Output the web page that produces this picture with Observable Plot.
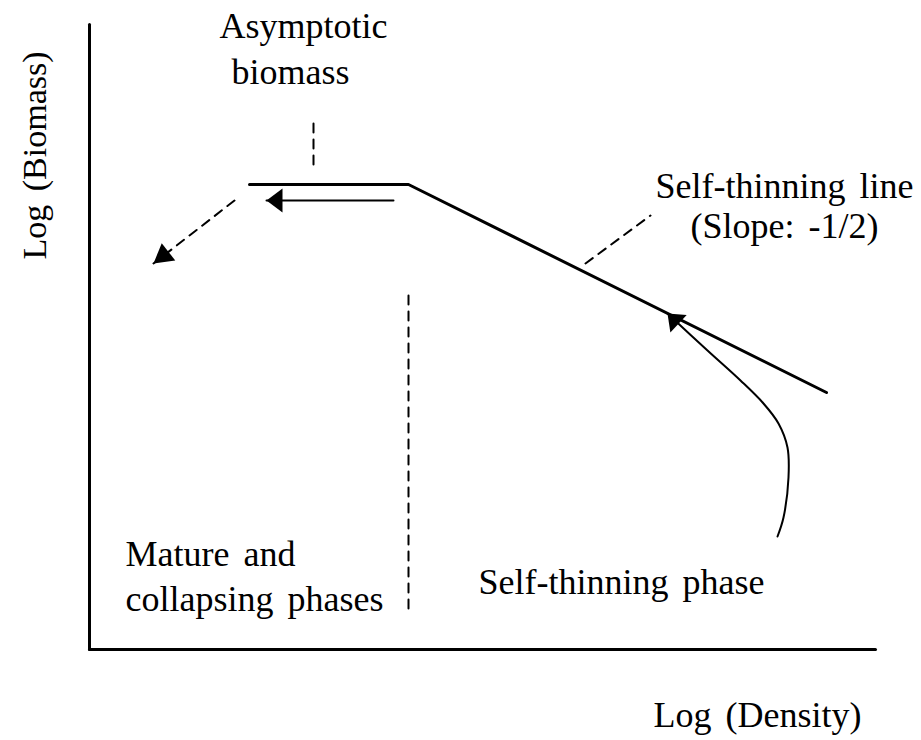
<!DOCTYPE html>
<html><head><meta charset="utf-8">
<script src="https://cdn.jsdelivr.net/npm/d3@7"></script>
<script src="https://cdn.jsdelivr.net/npm/@observablehq/plot@0.6"></script>
<style>body{margin:0;background:#fff} svg text{word-spacing:5px}</style>
</head><body><div id="chart"></div>
<script>
// Diagram units: origin at the axes' corner (log density, log biomass, arbitrary units)
const axisYPts = [{x: 0, y: 0}, {x: 0, y: 625}];
const axisXPts = [{x: 0, y: 0}, {x: 786, y: 0}];
// Asymptotic plateau followed by the self-thinning line (slope -1/2)
const trajectory = [{x: 160, y: 465}, {x: 319, y: 465}, {x: 737, y: 257}];
// Arrow along the plateau (pointing to lower density)
const returnArrow = [{x: 304, y: 449}, {x: 177, y: 449}];
// Dashed arrow for collapse
const collapseArrow = [{x: 145, y: 449}, {x: 64, y: 386}];
// Stand trajectory curving up to the self-thinning line
const standCurve = [
  {x: 688, y: 113}, {x: 694, y: 132}, {x: 699, y: 172}, {x: 698, y: 202},
  {x: 689, y: 226}, {x: 674, y: 246}, {x: 651, y: 269}, {x: 618, y: 299},
  {x: 578, y: 336}
];
// Dashed leaders / divider
const asymptoteLeader = [{x: 224, y: 526}, {x: 224, y: 482}];
const phaseDivider = [{x: 319, y: 354}, {x: 319, y: 37}];
const lineLeader = [{x: 496, y: 386}, {x: 561, y: 434}];

// Labels
const labelsCentered = [
  {x: 214, y: 612, text: "Asymptotic"},
  {x: 201, y: 566, text: "biomass"}
];
const labelSlope = [{x: 695, y: 412, text: "Self-thinning line\n(Slope: -1/2)"}];
const labelsLeft = [
  {x: 36, y: 84, text: "Mature and"},
  {x: 36, y: 39, text: "collapsing phases"},
  {x: 389, y: 56, text: "Self-thinning phase"},
  {x: 564, y: -77, text: "Log (Density)"}
];
const labelY = [{x: -44, y: 494, text: "Log (Biomass)"}];

function headSymbol(len, wid) {
  return {draw(ctx) {
    ctx.moveTo(0, 0);
    ctx.lineTo(-len, -wid / 2);
    ctx.lineTo(-len, wid / 2);
    ctx.closePath();
  }};
}
function tipOf(path) {
  const a = path[path.length - 2], b = path[path.length - 1];
  return [{x: b.x, y: b.y, angle: Math.atan2(-(b.y - a.y), b.x - a.x) * 180 / Math.PI}];
}

const font = "Liberation Serif, Times New Roman, serif";
const fs = 36;

const chart = Plot.plot({
  width: 921,
  height: 740,
  margin: 0,
  x: {domain: [-89, 832], axis: null},
  y: {domain: [-91, 649], axis: null},
  style: {background: "white"},
  marks: [
    Plot.line(axisYPts, {x: "x", y: "y", stroke: "black", strokeWidth: 3}),
    Plot.line(axisXPts, {x: "x", y: "y", stroke: "black", strokeWidth: 3}),
    Plot.line(trajectory, {x: "x", y: "y", stroke: "black", strokeWidth: 3, strokeLinejoin: "miter"}),
    Plot.line(returnArrow, {x: "x", y: "y", stroke: "black", strokeWidth: 2}),
    Plot.line(collapseArrow, {x: "x", y: "y", stroke: "black", strokeWidth: 2, strokeDasharray: "9,7"}),
    Plot.line(standCurve, {x: "x", y: "y", stroke: "black", strokeWidth: 2, curve: "catmull-rom"}),
    Plot.line(asymptoteLeader, {x: "x", y: "y", stroke: "black", strokeWidth: 2, strokeDasharray: "9,7"}),
    Plot.line(phaseDivider, {x: "x", y: "y", stroke: "black", strokeWidth: 2, strokeDasharray: "9,7"}),
    Plot.line(lineLeader, {x: "x", y: "y", stroke: "black", strokeWidth: 2, strokeDasharray: "9,7"}),
    Plot.dot(tipOf(returnArrow), {x: "x", y: "y", rotate: "angle", symbol: headSymbol(16, 24), fill: "black", stroke: "none"}),
    Plot.dot(tipOf(collapseArrow), {x: "x", y: "y", rotate: "angle", symbol: headSymbol(19, 22), fill: "black", stroke: "none"}),
    Plot.dot(tipOf(standCurve), {x: "x", y: "y", rotate: "angle", symbol: headSymbol(15, 24), fill: "black", stroke: "none"}),
    Plot.text(labelsCentered, {x: "x", y: "y", text: "text", textAnchor: "middle", lineAnchor: "bottom", fontSize: fs, fontFamily: font, fill: "black"}),
    Plot.text(labelSlope, {x: "x", y: "y", text: "text", textAnchor: "middle", lineAnchor: "bottom", lineHeight: 1.1, fontSize: fs, fontFamily: font, fill: "black"}),
    Plot.text(labelsLeft, {x: "x", y: "y", text: "text", textAnchor: "start", lineAnchor: "bottom", fontSize: fs, fontFamily: font, fill: "black"}),
    Plot.text(labelY, {x: "x", y: "y", text: "text", textAnchor: "middle", lineAnchor: "bottom", rotate: -90, fontSize: 34, fontFamily: font, fill: "black"})
  ]
});
document.getElementById("chart").appendChild(chart);
</script>
</body></html>
